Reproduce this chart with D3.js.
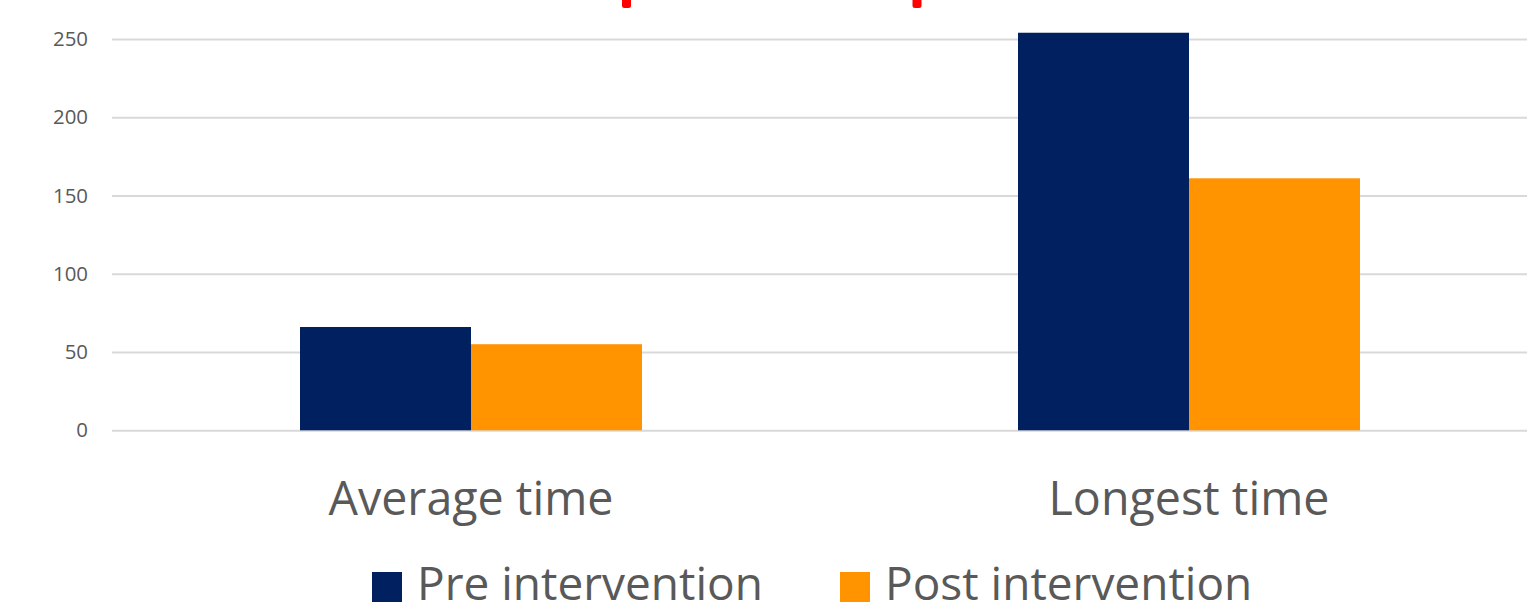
<!DOCTYPE html>
<html><head><meta charset="utf-8">
<script src="https://cdn.jsdelivr.net/npm/d3@7"></script>
<style>body{margin:0;background:#fff} svg{display:block}</style>
</head><body>
<svg id="c" width="1527" height="613"></svg>
<script>
const categories = ["Average time", "Longest time"];
const seriesNames = ["Pre intervention", "Post intervention"];
const preValues = [66, 254];
const postValues = [55, 161];
const yTicks = [0, 50, 100, 150, 200, 250];
const colors = ["#002060", "#FF9300"];

const FONT = "'Open Sans', 'Noto Sans', sans-serif";
const textColor = "#595959";
const svg = d3.select("#c");

const data = categories.map((c, i) => ({cat: c, vals: [preValues[i], postValues[i]]}));

const x0 = d3.scaleBand().domain(categories).range([112, 1548]).paddingInner(0).paddingOuter(0);
const groupW = x0.bandwidth() * 342 / 718;
const x1 = d3.scaleBand().domain([0, 1]).range([0, groupW]).padding(0);
const y = d3.scaleLinear().domain([0, 250]).range([430.3, 39]);

function fit(sel, targetW) {
  const w = sel.node().getComputedTextLength();
  const fs = parseFloat(sel.attr("font-size"));
  sel.attr("font-size", fs * targetW / w);
  return fs * targetW / w;
}

// gridlines + y tick labels
const yAxis = d3.axisLeft(y).tickValues(yTicks).tickSize(-(1548 - 112)).tickPadding(24).tickFormat(d3.format("d"));
const gAxis = svg.append("g").attr("transform", "translate(112,0)").call(yAxis);
gAxis.select(".domain").remove();
gAxis.selectAll(".tick line").attr("stroke", "#d9d9d9").attr("stroke-width", 2);
const tickTexts = gAxis.selectAll(".tick text").attr("fill", textColor).attr("font-family", FONT).attr("font-size", 20);
const t250 = tickTexts.filter(d => d === 250);
const fsTick = fit(t250, 35);
tickTexts.attr("font-size", fsTick);

// bars
const groups = svg.append("g").selectAll("g").data(data).join("g")
  .attr("transform", d => `translate(${x0(d.cat) + (x0.bandwidth() - groupW) / 2},0)`);
groups.selectAll("rect").data(d => d.vals.map((v, i) => ({v, i}))).join("rect")
  .attr("x", d => x1(d.i))
  .attr("width", x1.bandwidth())
  .attr("y", d => y(d.v))
  .attr("height", d => y(0) - y(d.v))
  .attr("fill", d => colors[d.i]);

// category labels
const catLabels = svg.append("g").selectAll("text").data(categories).join("text")
  .attr("x", d => x0(d) + x0.bandwidth() / 2)
  .attr("y", 515)
  .attr("text-anchor", "middle")
  .attr("font-family", FONT)
  .attr("font-size", 40)
  .attr("fill", textColor)
  .text(d => d);
const fsCat = fit(catLabels.filter((d, i) => i === 0), 285);
catLabels.attr("font-size", fsCat);

// legend
const legendX = [372, 840];
const leg = svg.append("g").selectAll("g").data(seriesNames).join("g")
  .attr("transform", (d, i) => `translate(${legendX[i]},0)`);
leg.append("rect").attr("x", 0).attr("y", 572).attr("width", 30).attr("height", 30)
  .attr("fill", (d, i) => colors[i]);
const legText = leg.append("text").attr("x", 45).attr("y", 600)
  .attr("font-family", FONT).attr("font-size", 40).attr("fill", textColor).text(d => d);
const fsLeg = fit(legText.filter((d, i) => i === 0), 346);
legText.attr("font-size", fsLeg);

// red annotation fragments at the top
const marks = [626.5, 917];
svg.append("g").selectAll("rect").data(marks).join("rect")
  .attr("x", d => d - 4.5).attr("y", -6).attr("width", 9).attr("height", 14)
  .attr("rx", 2.5).attr("fill", "#FF0000");
</script>
</body></html>
